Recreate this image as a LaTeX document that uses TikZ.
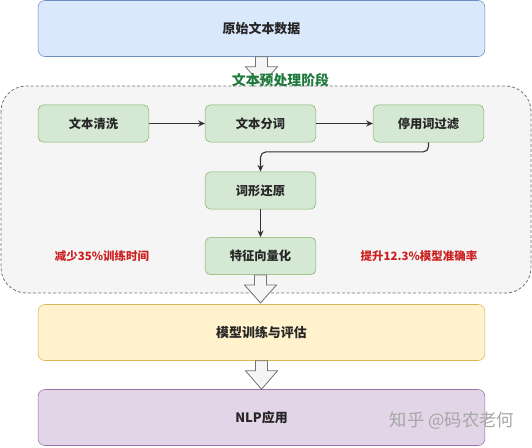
\documentclass[tikz,border=0pt]{standalone}
\usepackage{fontspec}
\setmainfont{Noto Sans CJK SC}
\usepackage{xcolor}
\usepackage{tikz}
\usetikzlibrary{calc,arrows.meta}
\usetikzlibrary{positioning}

\definecolor{bluefill}{HTML}{DAE8FC}
\definecolor{blueline}{HTML}{6C8EBF}
\definecolor{greenfill}{HTML}{D5E8D4}
\definecolor{greenline}{HTML}{82B366}
\definecolor{yellowfill}{HTML}{FFF2CC}
\definecolor{yellowline}{HTML}{D6B656}
\definecolor{purplefill}{HTML}{E1D5E7}
\definecolor{purpleline}{HTML}{9673A6}
\definecolor{stagegreen}{HTML}{1E7A3C}
\definecolor{notered}{HTML}{CC2020}

\tikzset{
  bigbox/.style={draw, rounded corners=5pt, minimum width=335pt, minimum height=42pt, font=\bfseries\fontsize{9.7}{11}\selectfont, text=black!85},
  stepbox/.style={draw=greenline, fill=greenfill, rounded corners=4pt, minimum width=83pt, minimum height=28pt, font=\bfseries\fontsize{9.2}{11}\selectfont, text=black!85},
  flow/.style={draw=black!80, line width=0.8pt, -{Stealth[length=5pt,width=4.5pt]}},
  fat/.style={draw=black!55, fill=black!4, line width=0.6pt},
  note/.style={text=notered, font=\bfseries\fontsize{8.6}{10}\selectfont}
}

% block arrow between two nodes
\newcommand{\fatarrow}[2]{%
  \draw[fat] ($(#1.south)+(-6,0)$) -- ($(#1.south)+(6,0)$) -- ($(#1.south)+(6,10)$) -- ($(#1.south)+(16,10)$)
    -- (#2.north) -- ($(#1.south)+(-16,10)$) -- ($(#1.south)+(-6,10)$) -- cycle;}

\begin{document}
\begin{tikzpicture}[x=0.75pt,y=0.75pt,yscale=-1,xscale=1]
\useasboundingbox (0,0) rectangle (532,447);

%Container: preprocessing stage
\draw [draw=black!55, fill=black!4, dashed, dash pattern=on 2.2pt off 1.6pt, line width=0.6pt, rounded corners=19pt] (1,86) rectangle (531,293);

% Main nodes
\node [bigbox, draw=blueline, fill=bluefill] (raw) at (261.5,28.5) {原始文本数据};
\node [bigbox, draw=yellowline, fill=yellowfill] (train) at (261.5,332.5) {模型训练与评估};
\node [bigbox, draw=purpleline, fill=purplefill] (app) at (261.5,417.5) {NLP应用};

% Step nodes
\node [stepbox] (clean) at (93.5,123.5) {文本清洗};
\node [stepbox] (seg) at (260.5,123.5) {文本分词};
\node [stepbox] (stop) at (428.5,123.5) {停用词过滤};
\node [stepbox] (lemma) at (260.5,190.5) {词形还原};
\node [stepbox] (vec) at (260.5,256) {特征向量化};

% Step connectors
\draw [flow] (clean) -- (seg);
\draw [flow] (seg) -- (stop);
\draw [flow, rounded corners=4pt] (stop.south) -- ++(0,9.5) -| (lemma.north);
\draw [flow] (lemma) -- (vec);

% Block arrows
\fatarrow{raw}{$(raw.south)+(0,28)$}
\fatarrow{vec}{$(vec.south)+(0,28)$}
\fatarrow{train}{app}

% Text Node
\node [text=stagegreen, font=\bfseries\fontsize{10.4}{12}\selectfont] (stage) at (280.5,80) {文本预处理阶段};
% Text Node
\node [note] (lesstime) at (102,256) {减少35\%训练时间};
% Text Node
\node [note] (moreacc) at (419,256) {提升12.3\%模型准确率};
% Text Node
\node [text=black!35, font=\fontsize{13}{15}\selectfont] (mark) at (452,421) {知乎 @码农老何};

\end{tikzpicture}
\end{document}
